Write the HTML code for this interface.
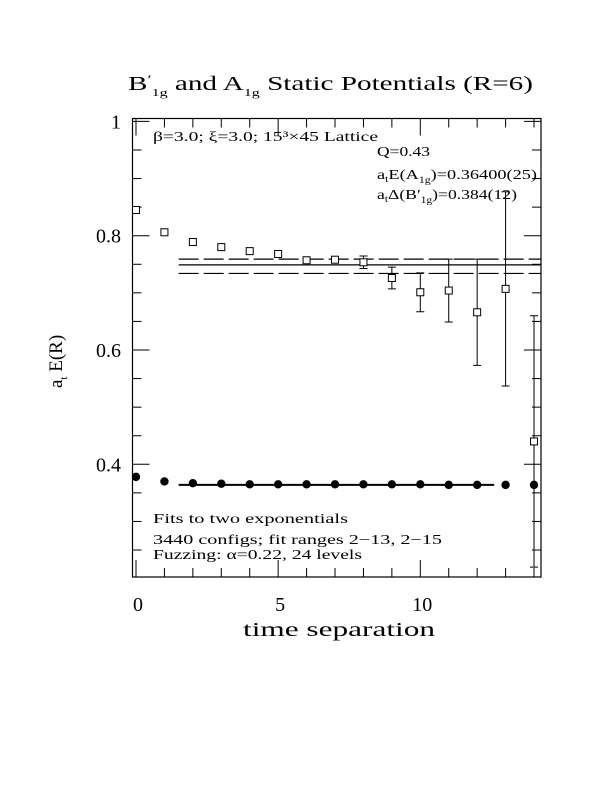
<!DOCTYPE html>
<html><head><meta charset="utf-8">
<style>
body{margin:0;background:#fff;width:612px;height:792px;overflow:hidden}
svg{font-family:"Liberation Serif",serif;}
</style></head><body>
<svg id="chart" width="612" height="792" viewBox="0 0 612 792" xmlns="http://www.w3.org/2000/svg">
<text x="128" y="90" font-size="20" textLength="405" lengthAdjust="spacingAndGlyphs">B<tspan font-size="13" dy="-6">′</tspan><tspan font-size="11" dy="12">1g</tspan><tspan dy="-6"> and A</tspan><tspan font-size="11" dy="6">1g</tspan><tspan dy="-6"> Static Potentials (R=6)</tspan></text>
<rect x="132.5" y="118.5" width="408.5" height="458.5" fill="none" stroke="#000" stroke-width="1.2"/>
<g id="ticks"></g>
<g id="marks"></g>
<text transform="translate(62,388) rotate(-90)" font-size="19">a<tspan font-size="11" dy="5">t</tspan><tspan dy="-5"> E(R)</tspan></text>
<text x="243" y="636" font-size="20" textLength="192" lengthAdjust="spacingAndGlyphs">time separation</text>
<g font-size="14">
<text x="153" y="141" textLength="225" lengthAdjust="spacingAndGlyphs">β=3.0; ξ=3.0; 15³×45 Lattice</text>
<text x="377" y="156" textLength="53" lengthAdjust="spacingAndGlyphs">Q=0.43</text>
<text x="377" y="179" textLength="160" lengthAdjust="spacingAndGlyphs">a<tspan font-size="9" dy="3">t</tspan><tspan dy="-3">E(A</tspan><tspan font-size="9" dy="4">1g</tspan><tspan dy="-4">)=0.36400(25)</tspan></text>
<text x="377" y="199" textLength="140" lengthAdjust="spacingAndGlyphs">a<tspan font-size="9" dy="3">t</tspan><tspan dy="-3">Δ(B′</tspan><tspan font-size="9" dy="4">1g</tspan><tspan dy="-4">)=0.384(12)</tspan></text>
<text x="153" y="523" textLength="195" lengthAdjust="spacingAndGlyphs">Fits to two exponentials</text>
<text x="153" y="544" textLength="289" lengthAdjust="spacingAndGlyphs">3440 configs; fit ranges 2−13, 2−15</text>
<text x="153" y="559" textLength="209" lengthAdjust="spacingAndGlyphs">Fuzzing: α=0.22, 24 levels</text>
</g>
</svg>
<script>
const tValues=[0,1,2,3,4,5,6,7,8,9,10,11,12,13,14];
const a1gValues=[0.378,0.370,0.367,0.366,0.365,0.365,0.365,0.365,0.365,0.365,0.365,0.364,0.364,0.364,0.364];
const b1gValues=[0.845,0.806,0.789,0.780,0.773,0.768,0.757,0.758,0.7535,0.726,0.701,0.704,0.666,0.707,0.44];
const b1gErrors=[0.002,0.002,0.003,0.003,0.002,0.003,0.003,0.004,0.011,0.019,0.034,0.055,0.093,0.17,0.22];
const fitA1g=[1.5,12.6,0.364];
const fitB1g=[1.5,14,0.749,0.759,0.734];
const xTickLabels=["0","5","10"];
const yTickLabels=["0.4","0.6","0.8","1"];
const NS="http://www.w3.org/2000/svg";
const X0=132.5,X1=541,Y0=577,Y1=118.5;
const xs=t=>136+t*28.43;
const ys=v=>464.3-(v-0.4)*571.5;
function mk(tag,attrs,parent){const e=document.createElementNS(NS,tag);for(const k in attrs)e.setAttribute(k,attrs[k]);parent.appendChild(e);return e;}
const tk=document.getElementById('ticks'),mg=document.getElementById('marks'),svg=document.getElementById('chart');
for(let t=0;t<=14;t++){const x=xs(t),L=(t%5===0)?17:9;
 const a=mk('line',{x1:x,x2:x,y1:Y0,y2:Y0-L,stroke:'#000'},tk);
 
 
 const b=mk('line',{x1:x,x2:x,y1:Y1,y2:Y1+L,stroke:'#000'},tk);
 
 }
for(let i=0;i<=16;i++){const v=0.2+i*0.05;const y=ys(v);if(y>Y0+0.5||y<Y1-0.5)continue;const L=(i%4===0)?17:9;
 const a=mk('line',{x1:X0,x2:X0+L,y1:y,y2:y,stroke:'#000'},tk);
 
 
 const b=mk('line',{x1:X1,x2:X1-L,y1:y,y2:y,stroke:'#000'},tk);
 
 }
xTickLabels.forEach(s=>{const e=mk('text',{x:xs(+s)+2,y:611,'font-size':20,'text-anchor':'middle'},svg);e.textContent=s;
 
 });
yTickLabels.forEach(s=>{const e=mk('text',{x:121,y:ys(+s)+7,'font-size':20,'text-anchor':'end'},svg);e.textContent=s;
 
 });
const fa=mk('line',{x1:xs(fitA1g[0]),x2:xs(fitA1g[1]),y1:ys(fitA1g[2]),y2:ys(fitA1g[2]),stroke:'#000','stroke-width':2},mg);


[[fitB1g[2],''],[fitB1g[3],'20 5'],[fitB1g[4],'20 5']].forEach((p,i)=>{
 const l=mk('line',{x1:xs(fitB1g[0]),x2:X1,y1:ys(p[0]),y2:ys(p[0]),stroke:'#000','stroke-width':1.2,'stroke-dasharray':p[1]},mg);
 
 });
tValues.forEach((t,i)=>{const x=xs(t),y=ys(b1gValues[i]);const e=b1gErrors[i];
 const yt=Math.max(ys(b1gValues[i]+e),Y1),yb=Math.min(ys(b1gValues[i]-e),Y0);
 if(e>0.005){const l=mk('path',{d:`M${x},${yt}V${yb}M${x-4},${yt}H${x+4}M${x-4},${yb}H${x+4}`,stroke:'#000',fill:'none'},mg);
  
  }
 const r=mk('rect',{x:x-3.5,y:y-3.5,width:7,height:7,fill:'#fff',stroke:'#000'},mg);
 
 });
tValues.forEach((t,i)=>{const c=mk('circle',{cx:xs(t),cy:ys(a1gValues[i]),r:4.2,fill:'#000'},mg);
 
 });
</script>
</body></html>
